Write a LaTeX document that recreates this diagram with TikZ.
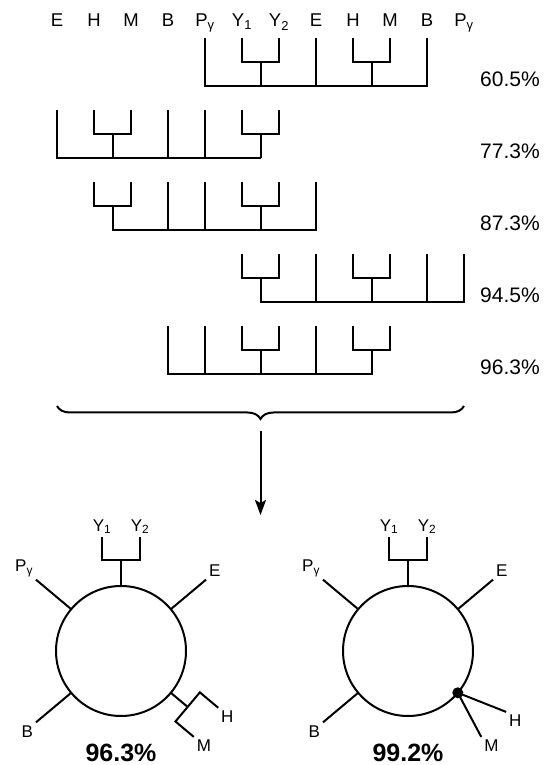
\documentclass[tikz,border=0pt]{standalone}
\usepackage{fontspec}
\setmainfont{Liberation Sans}
\usetikzlibrary{decorations.pathreplacing,arrows.meta}

\begin{document}
\begin{tikzpicture}[
	x=1pt, y=1pt,
	treeLine/.style={draw=black, line width=2pt},
	leafLabel/.style={anchor=base, inner sep=0pt, font=\fontsize{18.5}{20}\selectfont},
	rateLabel/.style={anchor=base west, inner sep=0pt, font=\fontsize{21}{24}\selectfont},
	bigRate/.style={anchor=base, inner sep=0pt, font=\bfseries\fontsize{25}{28}\selectfont},
	ringNode/.style={circle, draw=black, line width=2pt, inner sep=0pt, outer sep=0pt, minimum size=130pt},
	armLabel/.style={inner sep=2pt, font=\fontsize{17}{18}\selectfont}
]
	\useasboundingbox (0,0) rectangle (545,765);

	% residue labels
	\node[leafLabel] (topE1) at (57,738) {E};
	\node[leafLabel] (topH1) at (94,738) {H};
	\node[leafLabel] (topM1) at (131,738) {M};
	\node[leafLabel] (topB1) at (168,738) {B};
	\node[leafLabel] (topP1) at (205,738) {P\textsubscript{γ}};
	\node[leafLabel] (topY1) at (242,738) {Y\textsubscript{1}};
	\node[leafLabel] (topY2) at (279,738) {Y\textsubscript{2}};
	\node[leafLabel] (topE2) at (316,738) {E};
	\node[leafLabel] (topH2) at (353,738) {H};
	\node[leafLabel] (topM2) at (390,738) {M};
	\node[leafLabel] (topB2) at (427,738) {B};
	\node[leafLabel] (topP2) at (464,738) {P\textsubscript{γ}};

	% 60.5%
	\draw[treeLine] (205,727) |- (427,679) -- (427,727);
	\draw[treeLine] (242,727) |- (279,703) -- (279,727);
	\draw[treeLine] (260.5,703) -- (260.5,679);
	\draw[treeLine] (316,727) -- (316,679);
	\draw[treeLine] (353,727) |- (390,703) -- (390,727);
	\draw[treeLine] (371.5,703) -- (371.5,679);
	\node[rateLabel] (rate1) at (480,678) {60.5\%};

	% 77.3%
	\draw[treeLine] (57,655) |- (260.5,607);
	\draw[treeLine] (94,655) |- (131,631) -- (131,655);
	\draw[treeLine] (112.5,631) -- (112.5,607);
	\draw[treeLine] (168,655) -- (168,607);
	\draw[treeLine] (205,655) -- (205,607);
	\draw[treeLine] (242,655) |- (279,631) -- (279,655);
	\draw[treeLine] (260.5,631) -- (260.5,607);
	\node[rateLabel] (rate2) at (480,606) {77.3\%};

	% 87.3%
	\draw[treeLine] (94,583) |- (131,559) -- (131,583);
	\draw[treeLine] (112.5,559) |- (316,535) -- (316,583);
	\draw[treeLine] (168,583) -- (168,535);
	\draw[treeLine] (205,583) -- (205,535);
	\draw[treeLine] (242,583) |- (279,559) -- (279,583);
	\draw[treeLine] (260.5,559) -- (260.5,535);
	\node[rateLabel] (rate3) at (480,534) {87.3\%};

	% 94.5%
	\draw[treeLine] (242,511) |- (279,487) -- (279,511);
	\draw[treeLine] (260.5,487) |- (464,463) -- (464,511);
	\draw[treeLine] (316,511) -- (316,463);
	\draw[treeLine] (353,511) |- (390,487) -- (390,511);
	\draw[treeLine] (371.5,487) -- (371.5,463);
	\draw[treeLine] (427,511) -- (427,463);
	\node[rateLabel] (rate4) at (480,462) {94.5\%};

	% 96.3%
	\draw[treeLine] (168,439) |- (371.5,391) -- (371.5,415);
	\draw[treeLine] (205,439) -- (205,391);
	\draw[treeLine] (242,439) |- (279,415) -- (279,439);
	\draw[treeLine] (260.5,415) -- (260.5,391);
	\draw[treeLine] (316,439) -- (316,391);
	\draw[treeLine] (353,439) |- (390,415) -- (390,439);
	\node[rateLabel] (rate5) at (480,390) {96.3\%};

	% brace and arrow
	\coordinate (braceL) at (57,359);
	\coordinate (braceR) at (464,359);
	\coordinate (arrowTop) at (260.5,334);
	\coordinate (arrowEnd) at (260.5,250);
	\draw[treeLine, decorate, decoration={brace, mirror, amplitude=13pt}] (braceL) -- (braceR);
	\draw[treeLine, -{Stealth[length=15pt, width=11pt, inset=3pt]}] (arrowTop) -- (arrowEnd);

	% left wheel
	\node[ringNode] (ringA) at (121,114) {};
	\draw[treeLine] (ringA.90) -- ++(0,26) coordinate (forkA);
	\draw[treeLine] (forkA) ++(-19,23) node[armLabel, anchor=south] (labY1A) {Y\textsubscript{1}}
		-- ++(0,-23) -- ++(38,0) -- ++(0,23) node[armLabel, anchor=south] (labY2A) {Y\textsubscript{2}};
	\draw[treeLine] (ringA.40) -- ++(40:46) node[armLabel, anchor=south west] (labEA) {E};
	\draw[treeLine] (ringA.140) -- ++(140:46) node[armLabel, anchor=south east] (labPA) {P\textsubscript{γ}};
	\draw[treeLine] (ringA.220) -- ++(220:46) node[armLabel, anchor=north east] (labBA) {B};
	\begin{scope}[shift={(ringA.-40)}, rotate=-40]
		\draw[treeLine] (0,0) -- (22,0);
		\draw[treeLine] (46,19) node[armLabel, anchor=north west] (labHA) {H}
			-- (22,19) -- (22,-19) -- (46,-19) node[armLabel, anchor=north west] (labMA) {M};
	\end{scope}
	\node[bigRate] (rateA) at (121,4) {96.3\%};

	% right wheel
	\node[ringNode] (ringB) at (408,114) {};
	\draw[treeLine] (ringB.90) -- ++(0,26) coordinate (forkB);
	\draw[treeLine] (forkB) ++(-19,23) node[armLabel, anchor=south] (labY1B) {Y\textsubscript{1}}
		-- ++(0,-23) -- ++(38,0) -- ++(0,23) node[armLabel, anchor=south] (labY2B) {Y\textsubscript{2}};
	\draw[treeLine] (ringB.40) -- ++(40:46) node[armLabel, anchor=south west] (labEB) {E};
	\draw[treeLine] (ringB.140) -- ++(140:46) node[armLabel, anchor=south east] (labPB) {P\textsubscript{γ}};
	\draw[treeLine] (ringB.220) -- ++(220:46) node[armLabel, anchor=north east] (labBB) {B};
	\fill (ringB.-40) circle (5.5);
	\draw[treeLine] (ringB.-40) -- ++(-21.6:52) node[armLabel, anchor=north west] (labHB) {H};
	\draw[treeLine] (ringB.-40) -- ++(-62:50) node[armLabel, anchor=north west] (labMB) {M};
	\node[bigRate] (rateB) at (408,4) {99.2\%};
\end{tikzpicture}
\end{document}
